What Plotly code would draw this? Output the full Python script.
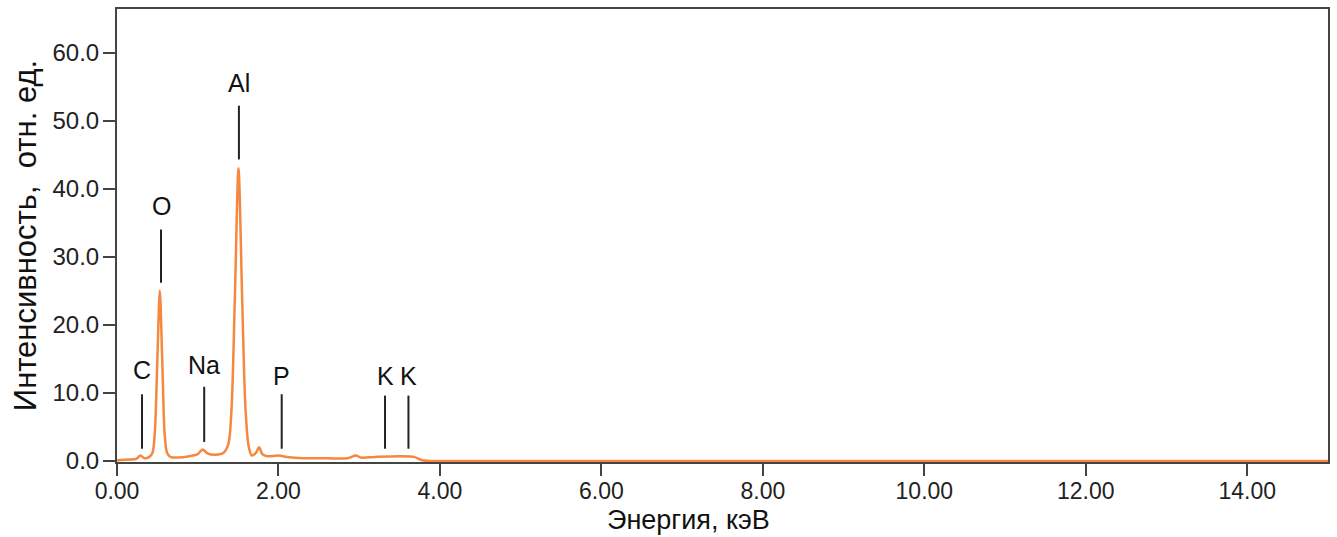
import plotly.graph_objects as go

# Spectrum (energy keV, intensity rel. units)
energy = [0.00, 0.15, 0.24, 0.29, 0.34, 0.40, 0.44, 0.47, 0.50, 0.53, 0.56, 0.59, 0.62,
          0.66, 0.75, 0.90, 1.00, 1.06, 1.12, 1.22, 1.32, 1.38, 1.42, 1.46, 1.505, 1.55,
          1.59, 1.63, 1.67, 1.72, 1.76, 1.80, 1.86, 2.00, 2.10, 2.30, 2.60, 2.85, 2.96,
          3.02, 3.20, 3.50, 3.68, 3.78, 3.90, 15.00]
intensity = [0.1, 0.2, 0.3, 0.8, 0.4, 0.6, 1.2, 4.5, 15.0, 25.0, 15.0, 4.0, 1.2,
             0.6, 0.5, 0.7, 1.0, 1.7, 1.1, 0.9, 1.2, 2.5, 8.0, 24.0, 43.0, 24.0,
             8.0, 2.2, 0.8, 1.2, 2.0, 1.0, 0.7, 0.8, 0.6, 0.4, 0.4, 0.4, 0.8,
             0.5, 0.6, 0.7, 0.6, 0.1, 0.0, 0.0]

# Element line markers
elements = ["C", "O", "Na", "Al", "P", "K", "K"]
element_energy = [0.31, 0.545, 1.08, 1.51, 2.04, 3.32, 3.61]
marker_bottom = [1.8, 26.2, 2.8, 44.3, 1.8, 1.8, 1.8]
marker_top = [9.8, 34.0, 10.9, 52.2, 9.8, 9.6, 9.6]
label_y = [13.3, 37.5, 14.1, 55.6, 12.5, 12.5, 12.5]

x_ticks = [0, 2, 4, 6, 8, 10, 12, 14]
y_ticks = [0, 10, 20, 30, 40, 50, 60]

x_title = "Энергия, кэВ"
y_title = "Интенсивность,  отн. ед."

FONT = "Liberation Sans, Arial, sans-serif"

fig = go.Figure()
fig.add_trace(go.Scatter(
    x=energy, y=intensity, mode="lines",
    line=dict(color="#F5873F", width=2.5, shape="spline", smoothing=0.8),
    showlegend=False, hoverinfo="skip",
))

for name, e, b, t, ly in zip(elements, element_energy, marker_bottom, marker_top, label_y):
    fig.add_shape(type="line", x0=e, x1=e, y0=b, y1=t, xref="x", yref="y",
                  line=dict(color="#222222", width=2))
    fig.add_annotation(x=e, y=ly, text=name, showarrow=False, xref="x", yref="y",
                       font=dict(family=FONT, size=25, color="#111111"))

# x-axis title (sits left of the plot centre in the reference)
fig.add_annotation(x=0.4723, y=-0.129, xref="paper", yref="paper", text=x_title,
                   showarrow=False, xanchor="center", yanchor="middle",
                   font=dict(family=FONT, size=27, color="#111111"))

axis_common = dict(
    showline=True, linecolor="#444444", linewidth=2, mirror=True,
    ticks="outside", ticklen=12, tickwidth=2, tickcolor="#444444",
    showgrid=False, zeroline=False, automargin=False,
)

fig.update_xaxes(range=[0, 15], tickvals=x_ticks, tickformat=".2f",
                 ticklabelstandoff=-5,
                 tickfont=dict(family=FONT, size=23, color="#222222"),
                 **axis_common)
fig.update_yaxes(range=[-0.15, 66.4], tickvals=y_ticks, tickformat=".1f",
                 ticklabelstandoff=-1,
                 tickfont=dict(family=FONT, size=24, color="#222222"),
                 title=dict(text=y_title, font=dict(family=FONT, size=31, color="#111111"),
                            standoff=7),
                 **axis_common)

fig.update_layout(
    width=1337, height=537,
    margin=dict(l=117, r=9, t=9, b=75),
    paper_bgcolor="white", plot_bgcolor="white",
    font=dict(family=FONT),
)

fig.write_html("out.html")
